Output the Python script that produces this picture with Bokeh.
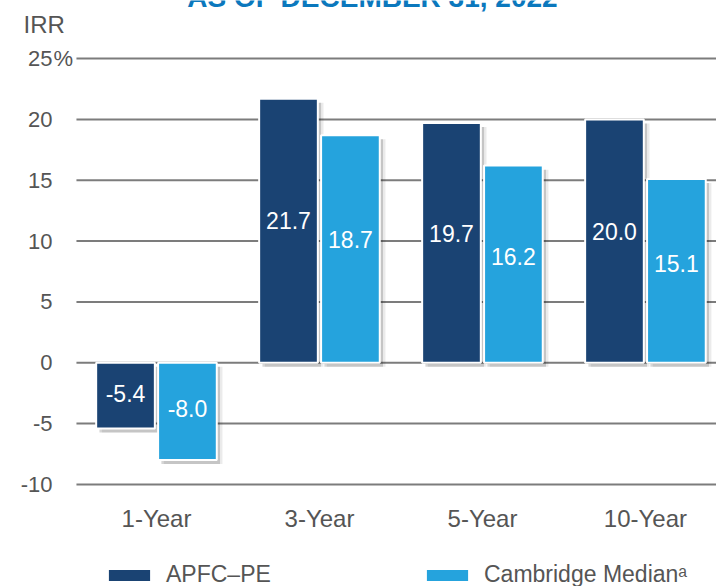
from bokeh.plotting import figure
from bokeh.models import (ColumnDataSource, Range1d, Label, Legend,
                          LegendItem)
from bokeh.core.properties import value
from bokeh.transform import dodge
from bokeh.embed import file_html
from bokeh.resources import INLINE

# --- data -------------------------------------------------------------
categories = ["1-Year", "3-Year", "5-Year", "10-Year"]
apfc_pe = [-5.4, 21.7, 19.7, 20.0]
cambridge_median = [-8.0, 18.7, 16.2, 15.1]
y_ticks = [-10, -5, 0, 5, 10, 15, 20, 25]
series_names = ["APFC\u2013PE", "Cambridge Median\u1d43"]
title_text = "AS OF DECEMBER 31, 2022"
y_title = "IRR"

# --- styling ----------------------------------------------------------
FONT = "Liberation Sans"
DARK = "#1a4373"
LIGHT = "#25a3dd"
GREY_TEXT = "#555555"
GRID = "#7c7c7c"
BAR_W = 0.36
OFF = 0.19
GRID_X0 = 0.509          # where the horizontal rules begin
TICK_X = 0.362           # right edge of the value-axis labels
CAT_Y = -12.8            # row of the category labels

xs = [i + 1 for i in range(len(categories))]


def label_pos(v):
    # value labels sit a little above the middle of positive bars
    return v * 0.54 if v > 0 else v * 0.47


src = ColumnDataSource(dict(
    x=xs,
    apfc=apfc_pe,
    camb=cambridge_median,
    apfc_lbl=[f"{v:.1f}" for v in apfc_pe],
    camb_lbl=[f"{v:.1f}" for v in cambridge_median],
    apfc_y=[label_pos(v) for v in apfc_pe],
    camb_y=[label_pos(v) for v in cambridge_median],
    apfc_sh_top=[max(v, 0) - 0.33 for v in apfc_pe],
    apfc_sh_bot=[min(v, 0) - 0.33 for v in apfc_pe],
    camb_sh_top=[max(v, 0) - 0.33 for v in cambridge_median],
    camb_sh_bot=[min(v, 0) - 0.33 for v in cambridge_median],
))

# the plotting frame fills the whole page; every text is drawn in data space
p = figure(width=716, height=586, output_backend="svg", toolbar_location=None,
           x_range=Range1d(0.043, 4.436), y_range=Range1d(-18.39, 29.77),
           min_border=0)
p.axis.visible = False
p.grid.visible = False
p.outline_line_color = None
p.background_fill_color = "white"
p.border_fill_color = "white"

# horizontal rules at every tick
p.segment(x0=GRID_X0, x1=p.x_range.end, y0=y_ticks, y1=y_ticks,
          line_color=GRID, line_width=2)

# tick labels of the value axis
p.text(x=TICK_X, y=y_ticks, text=[str(t) for t in y_ticks],
       text_font=value(FONT), text_font_size="22px", text_color=GREY_TEXT,
       text_align="right", text_baseline="middle")
p.add_layout(Label(x=TICK_X + 0.006, y=y_ticks[-1], text="%",
                   text_font=FONT, text_font_size="22px",
                   text_color=GREY_TEXT, text_align="left",
                   text_baseline="middle"))
p.add_layout(Label(x=0.184, y=27.79, text=y_title, text_font=FONT,
                   text_font_size="24px", text_color=GREY_TEXT,
                   text_align="left", text_baseline="middle"))

# heading (runs off the top of the page)
p.add_layout(Label(x=2.325, y=30.0, text=title_text, text_font=FONT,
                   text_font_size="28px", text_font_style="bold",
                   text_color="#0b78bd", text_align="center",
                   text_baseline="alphabetic"))

# category labels
p.text(x=xs, y=CAT_Y, text=categories, text_font=value(FONT),
       text_font_size="24px", text_color=GREY_TEXT, text_align="center",
       text_baseline="middle")

# soft drop shadows behind the bars
for dx, alpha in [(0.02, 0.16), (0.035, 0.08)]:
    p.vbar(x=dodge("x", -OFF + dx, range=p.x_range), top="apfc_sh_top",
           bottom="apfc_sh_bot", width=BAR_W, source=src,
           fill_color="black", fill_alpha=alpha, line_color=None)
    p.vbar(x=dodge("x", OFF + dx, range=p.x_range), top="camb_sh_top",
           bottom="camb_sh_bot", width=BAR_W, source=src,
           fill_color="black", fill_alpha=alpha, line_color=None)

r_apfc = p.vbar(x=dodge("x", -OFF, range=p.x_range), top="apfc", bottom=0,
                width=BAR_W, source=src, fill_color=DARK,
                line_color="white", line_width=2)
r_camb = p.vbar(x=dodge("x", OFF, range=p.x_range), top="camb", bottom=0,
                width=BAR_W, source=src, fill_color=LIGHT,
                line_color="white", line_width=2)

# value labels inside the bars
p.text(x=dodge("x", -OFF, range=p.x_range), y="apfc_y", text="apfc_lbl",
       source=src, text_color="white", text_font=value(FONT),
       text_font_size="23px", text_align="center", text_baseline="middle")
p.text(x=dodge("x", OFF, range=p.x_range), y="camb_y", text="camb_lbl",
       source=src, text_color="white", text_font=value(FONT),
       text_font_size="23px", text_align="center", text_baseline="middle")

legend = Legend(items=[LegendItem(label=series_names[0], renderers=[r_apfc]),
                       LegendItem(label=series_names[1], renderers=[r_camb])],
                orientation="horizontal", location=(102, -2),
                glyph_width=54, glyph_height=16, label_standoff=10,
                label_width=254, spacing=0, padding=0, margin=0,
                label_text_font=FONT, label_text_font_size="23px",
                label_text_color=GREY_TEXT, border_line_color=None,
                background_fill_alpha=0)
p.add_layout(legend, "center")

open("out.html", "w").write(file_html(p, INLINE))
